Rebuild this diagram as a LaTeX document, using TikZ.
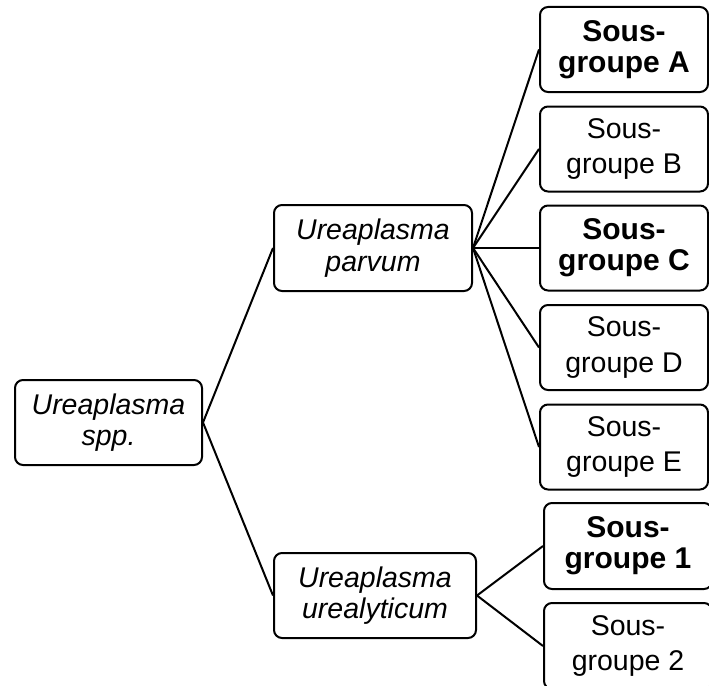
\documentclass[tikz,border=0pt]{standalone}
\usepackage{fontspec}
\setmainfont{Liberation Sans}
\begin{document}
\begin{tikzpicture}[x=1pt, y=-1pt,
    box/.style={rectangle, rounded corners=8pt, draw, line width=2pt, align=center,
      inner sep=0pt, minimum height=85pt, font=\fontsize{28}{31}\selectfont},
    species/.style={box, font=\fontsize{28.5}{31.5}\selectfont\itshape},
    sub/.style={box, minimum width=168pt, font=\fontsize{28.5}{35.5}\selectfont},
    mainsub/.style={sub, font=\fontsize{30}{31}\selectfont\bfseries}]
  \useasboundingbox (0,0) rectangle (709,685);

  \node[species, minimum width=187pt] (spp) at (108.5, 422.5) {Ureaplasma\\spp.};
  \node[species, minimum width=198pt, minimum height=86pt] (parvum) at (373, 248) {Ureaplasma\\parvum};
  \node[species, minimum width=202pt] (urealyticum) at (375, 595.5) {Ureaplasma\\urealyticum};

  \node[mainsub] (A) at (624, 49.5) {Sous-\\groupe A};
  \node[sub] (B) at (624, 149) {Sous-\\groupe B};
  \node[mainsub] (C) at (624, 248) {Sous-\\groupe C};
  \node[sub] (D) at (624, 347.5) {Sous-\\groupe D};
  \node[sub] (E) at (624, 447) {Sous-\\groupe E};
  \node[mainsub, minimum height=86pt] (1) at (628, 546) {Sous-\\groupe 1};
  \node[sub, minimum height=86pt] (2) at (628, 646) {Sous-\\groupe 2};

  \foreach \source/\dest in {spp/parvum, spp/urealyticum, parvum/A, parvum/B, parvum/C, parvum/D, parvum/E, urealyticum/1, urealyticum/2}
    \draw[line width=2pt] (\source.east) -- (\dest.west);
\end{tikzpicture}
\end{document}
